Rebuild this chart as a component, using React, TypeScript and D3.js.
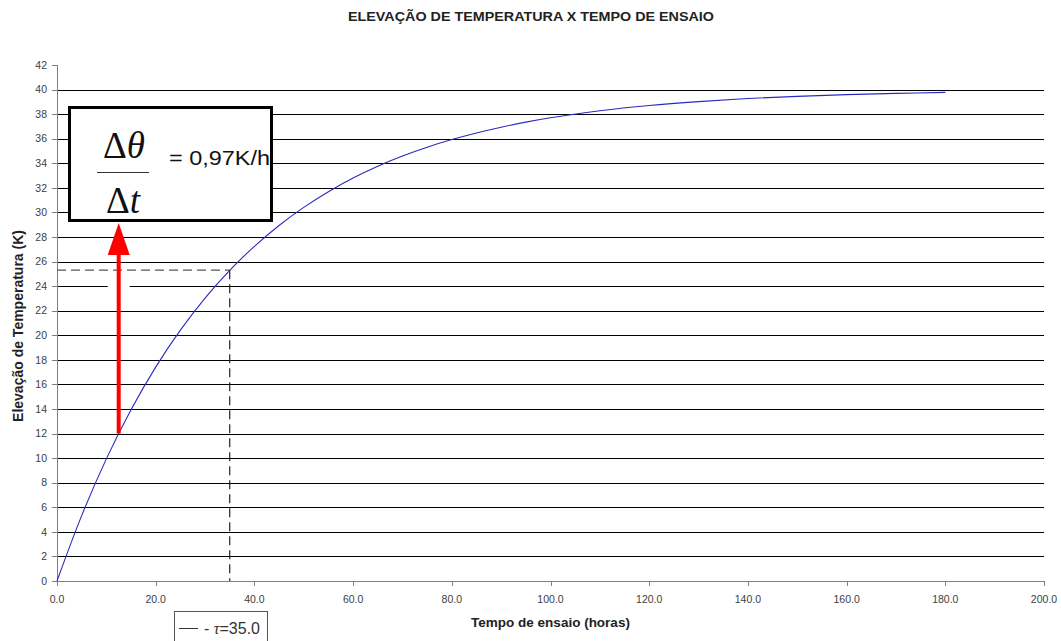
import React from 'react';
import * as d3 from 'd3';

const horas = [0, 5, 10, 15, 20, 25, 30, 35, 40, 45, 50, 55, 60, 65, 70, 75, 80, 85, 90, 95, 100, 110, 120, 130, 140, 150, 160, 170, 180];
const elevacao = [0, 5.32, 9.94, 13.94, 17.41, 20.42, 23.03, 25.29, 27.24, 28.94, 30.41, 31.69, 32.8, 33.76, 34.59, 35.31, 35.93, 36.47, 36.94, 37.35, 37.7, 38.27, 38.7, 39.02, 39.27, 39.45, 39.59, 39.69, 39.77];
const xTicks = [0, 20, 40, 60, 80, 100, 120, 140, 160, 180, 200];
const yTicks = d3.range(0, 44, 2);
const tau = 35.0;
const tauValue = 25.3;
const arrowFrom = { t: 12.5, y: 12 };

const W = 1061;
const H = 641;
const left = 57;
const right = 1044;
const top = 65;
const bottom = 581;

const App = () => {
  const x = d3.scaleLinear().domain([0, 200]).range([left, right]);
  const y = d3.scaleLinear().domain([0, 42]).range([bottom, top]);

  const line = d3
    .line<number>()
    .x((d, i) => x(horas[i]))
    .y(d => y(d))
    .curve(d3.curveCatmullRom);

  const axisColor = '#808080';
  const labelColor = '#404040';
  const font = 'Arial, "Liberation Sans", sans-serif';
  const serif = '"Liberation Serif", "DejaVu Serif", serif';

  const ax = x(arrowFrom.t);
  const boxTop = 106;
  const boxBottom = 222;

  return (
    <div style={{ position: 'absolute', left: 0, top: 0 }}>
      <svg width={W} height={H} style={{ display: 'block', background: '#fff' }} fontFamily={font}>
        <text x={531} y={21} textAnchor="middle" fontSize={13.5} fontWeight="bold" fill="#222" textLength={366} lengthAdjust="spacingAndGlyphs">
          ELEVAÇÃO DE TEMPERATURA X TEMPO DE ENSAIO
        </text>

        {/* grid lines */}
        {yTicks.filter(v => v > 0 && v < 42).map(v => (
          <line key={'g' + v} x1={left} x2={right} y1={Math.round(y(v)) + 0.5} y2={Math.round(y(v)) + 0.5} stroke="#000" strokeWidth={1} />
        ))}

        {/* axes */}
        <line x1={left + 0.5} x2={left + 0.5} y1={top} y2={bottom} stroke={axisColor} strokeWidth={1} />
        <line x1={left} x2={right} y1={bottom + 0.5} y2={bottom + 0.5} stroke={axisColor} strokeWidth={1} />
        {yTicks.map(v => (
          <g key={'y' + v}>
            <line x1={left - 5} x2={left} y1={Math.round(y(v)) + 0.5} y2={Math.round(y(v)) + 0.5} stroke={axisColor} />
            <text x={left - 10} y={y(v)} dy="0.35em" textAnchor="end" fontSize={10.5} fill={labelColor}>{v}</text>
          </g>
        ))}
        {xTicks.map(v => (
          <g key={'x' + v}>
            <line x1={Math.round(x(v)) + 0.5} x2={Math.round(x(v)) + 0.5} y1={bottom} y2={bottom + 5} stroke={axisColor} />
            <text x={x(v)} y={bottom + 22} textAnchor="middle" fontSize={10.5} fill={labelColor}>{d3.format('.1f')(v)}</text>
          </g>
        ))}

        {/* tau dashed guides */}
        <line x1={left} x2={x(tau)} y1={y(tauValue)} y2={y(tauValue)} stroke="#555" strokeWidth={1.2} strokeDasharray="9,5" />
        <line x1={x(tau)} x2={x(tau)} y1={y(tauValue)} y2={bottom} stroke="#222" strokeWidth={1.2} strokeDasharray="9,5" />

        {/* curve */}
        <path d={line(elevacao) || ''} fill="none" stroke="#2a2ac0" strokeWidth={1.1} />

        {/* arrow */}
        <rect x={ax - 11} y={Math.round(y(24)) - 1} width={22} height={3} fill="#fff" />
        <line x1={ax} x2={ax} y1={y(arrowFrom.y)} y2={boxBottom + 30} stroke="#ff0000" strokeWidth={4} />
        <path d={`M${ax},${boxBottom + 1} L${ax + 11},${boxBottom + 33} L${ax - 11},${boxBottom + 33} Z`} fill="#ff0000" />

        {/* formula box */}
        <rect x={69.5} y={boxTop + 1.5} width={202} height={boxBottom - boxTop - 3} fill="#fff" stroke="#000" strokeWidth={3} />
        <text x={124} y={158} textAnchor="middle" fontFamily={serif} fontSize={37} fill="#111">
          Δ<tspan fontStyle="italic">θ</tspan>
        </text>
        <line x1={97} x2={149} y1={172.5} y2={172.5} stroke="#333" strokeWidth={1} />
        <text x={123} y={213} textAnchor="middle" fontFamily={serif} fontSize={37} fill="#111">
          Δ<tspan fontStyle="italic">t</tspan>
        </text>
        <text x={169} y={165} fontSize={21} fill="#111" textLength={101} lengthAdjust="spacingAndGlyphs">= 0,97K/h</text>

        {/* legend */}
        <rect x={174.5} y={611.5} width={93} height={40} fill="#fff" stroke="#555" strokeWidth={1} />
        <line x1={179} x2={198} y1={628.5} y2={628.5} stroke="#333" strokeWidth={1} />
        <text x={204} y={634} fontSize={16} fill="#333">
          - <tspan fontFamily={serif} fontStyle="italic">τ</tspan>=35.0
        </text>

        {/* axis titles */}
        <text x={(left + right) / 2} y={627} textAnchor="middle" fontSize={13.5} fontWeight="bold" fill="#222">Tempo de ensaio (horas)</text>
        <text transform={`translate(23,326) rotate(-90)`} textAnchor="middle" fontSize={14} fontWeight="bold" fill="#222">Elevação de Temperatura (K)</text>
      </svg>
    </div>
  );
};

export default App;
